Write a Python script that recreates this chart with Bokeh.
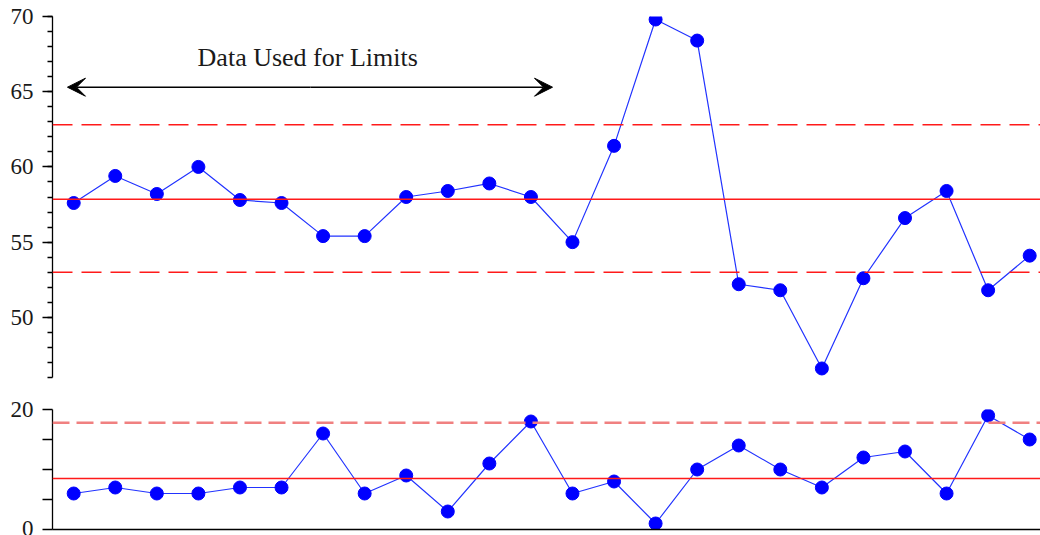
from bokeh.plotting import figure
from bokeh.layouts import column
from bokeh.models import (Range1d, Span, Arrow, VeeHead, Label, LinearAxis,
                          FixedTicker, ColumnDataSource)
from bokeh.embed import file_html
from bokeh.resources import INLINE

# Subgroup numbers and measured values
samples = list(range(1, 25))
individuals = [57.6, 59.4, 58.2, 60.0, 57.8, 57.6, 55.4, 55.4, 58.0, 58.4, 58.9, 58.0,
               55.0, 61.4, 69.8, 68.4, 52.2, 51.8, 46.6, 52.6, 56.6, 58.4, 51.8, 54.1]
ranges = [6, 7, 6, 6, 7, 7, 16, 6, 9, 3, 11, 18, 6, 8, 1, 10, 14, 10, 7, 12, 13, 6, 19, 15]

# Control limits computed from the first twelve subgroups
x_center, x_ucl, x_lcl = 57.85, 62.8, 53.0
r_center, r_ucl = 8.5, 17.8

x_ticks = [50, 55, 60, 65, 70]
r_ticks = [0, 5, 10, 15, 20]
r_tick_labels = {0: "0", 5: "", 10: "", 15: "", 20: "20"}

FONT = "Liberation Serif"
TEXT_COLOR = "#1a1a1a"
BLUE = "#0000ff"
LINE_BLUE = "#2233ff"

x_range = Range1d(0.49, 24.26)


def style_y_axis(ax):
    ax.axis_line_color = "black"
    ax.axis_line_width = 1.3
    ax.major_tick_line_color = "black"
    ax.minor_tick_line_color = "black"
    ax.major_tick_line_width = 1.3
    ax.minor_tick_line_width = 1.3
    ax.major_tick_in = 0
    ax.major_tick_out = 10
    ax.minor_tick_in = 0
    ax.minor_tick_out = 5
    ax.major_label_standoff = 9
    ax.major_label_text_font = FONT
    ax.major_label_text_font_size = "23px"
    ax.major_label_text_color = TEXT_COLOR


# Individuals chart
top = figure(width=1040, height=390, x_range=x_range, y_range=Range1d(46, 70),
             output_backend="svg", toolbar_location=None, x_axis_location=None,
             min_border_left=52, min_border_right=0, min_border_top=16,
             min_border_bottom=13)
top.outline_line_color = None
top.xgrid.visible = False
top.ygrid.visible = False
top.yaxis.ticker = FixedTicker(ticks=x_ticks, minor_ticks=list(range(46, 71)))
style_y_axis(top.yaxis[0])

for loc, dash in [(x_center, "solid"), (x_ucl, "20 9"), (x_lcl, "20 9")]:
    top.add_layout(Span(location=loc, dimension="width", line_color="#ff1a1a",
                        line_width=1.4, line_dash=dash))

src_top = ColumnDataSource(dict(x=samples, y=individuals))
top.line("x", "y", source=src_top, line_color=LINE_BLUE, line_width=1.2)
top.scatter("x", "y", source=src_top, size=13, color=BLUE)

top.add_layout(Arrow(x_start=6.7, y_start=65.3, x_end=0.85, y_end=65.3,
                     line_color="black", line_width=1.5,
                     end=VeeHead(size=18, fill_color="black", line_color="black")))
top.add_layout(Arrow(x_start=6.7, y_start=65.3, x_end=12.52, y_end=65.3,
                     line_color="black", line_width=1.5,
                     end=VeeHead(size=18, fill_color="black", line_color="black")))
top.add_layout(Label(x=6.63, y=67.25, text="Data Used for Limits", text_align="center",
                     text_baseline="alphabetic", text_font=FONT,
                     text_font_size="26px", text_color=TEXT_COLOR))

# Range chart
bottom = figure(width=1040, height=145, x_range=x_range, y_range=Range1d(0, 20),
                output_backend="svg", toolbar_location=None, x_axis_location=None,
                min_border_left=52, min_border_right=0, min_border_top=19,
                min_border_bottom=6)
bottom.outline_line_color = None
bottom.xgrid.visible = False
bottom.ygrid.visible = False
bottom.yaxis.ticker = FixedTicker(ticks=r_ticks)
bottom.yaxis.major_label_overrides = r_tick_labels
style_y_axis(bottom.yaxis[0])

x_axis = LinearAxis(ticker=FixedTicker(ticks=[]), major_label_text_font_size="0px",
                    major_tick_out=0, major_tick_in=0, minor_tick_out=0,
                    minor_tick_in=0, major_label_standoff=0,
                    axis_line_color="black", axis_line_width=1.3)
bottom.add_layout(x_axis, "below")

bottom.add_layout(Span(location=r_center, dimension="width", line_color="#ff1a1a",
                       line_width=1.4))
bottom.add_layout(Span(location=r_ucl, dimension="width", line_color="#f08080",
                       line_width=2.4, line_dash="17 7"))

src_bot = ColumnDataSource(dict(x=samples, y=ranges))
bottom.line("x", "y", source=src_bot, line_color=LINE_BLUE, line_width=1.2)
bottom.scatter("x", "y", source=src_bot, size=13, color=BLUE)

layout = column(top, bottom, spacing=0)
open("out.html", "w").write(file_html(layout, INLINE))
